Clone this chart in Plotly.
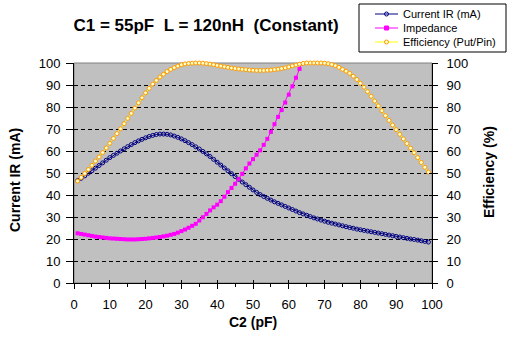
import plotly.graph_objects as go

# C2 sweep in pF
c2_pf = list(range(1, 100))

current_ir_ma = [
    46.5, 47.6, 48.7, 49.9, 51.0, 52.2, 53.4, 54.6, 55.8, 57.0,
    58.0, 59.0, 60.0, 61.0, 62.0, 62.9, 63.8, 64.6, 65.3, 66.0,
    66.6, 67.1, 67.5, 67.7, 67.7, 67.6, 67.3, 66.8, 66.2, 65.5,
    64.7, 63.8, 62.9, 61.9, 60.9, 59.8, 58.7, 57.5, 56.2, 54.9,
    53.6, 52.3, 51.0, 49.7, 48.4, 47.1, 45.9, 44.7, 43.5, 42.3,
    41.2, 40.2, 39.3, 38.5, 37.7, 36.9, 36.2, 35.5, 34.8, 34.1,
    33.4, 32.7, 32.0, 31.4, 30.8, 30.2, 29.6, 29.1, 28.6, 28.1,
    27.6, 27.2, 26.8, 26.4, 26.0, 25.6, 25.2, 24.9, 24.5, 24.2,
    23.9, 23.6, 23.3, 23.0, 22.7, 22.4, 22.1, 21.8, 21.5, 21.2,
    20.9, 20.6, 20.3, 20.0, 19.8, 19.5, 19.2, 18.9, 18.6,
]

impedance = [
    22.6, 22.3, 22.0, 21.7, 21.4, 21.1, 20.9, 20.7, 20.5, 20.3,
    20.2, 20.1, 20.0, 19.9, 19.8, 19.8, 19.8, 19.9, 20.0, 20.1,
    20.3, 20.5, 20.7, 20.9, 21.2, 21.5, 21.9, 22.3, 22.9, 23.6,
    24.3, 25.1, 26.0, 26.9, 28.4, 29.9, 31.4, 33.0, 34.4, 35.6,
    37.2, 39.2, 41.3, 43.2, 45.1, 47.2, 49.6, 52.1, 54.3, 56.3,
    58.3, 60.3, 62.8, 65.5, 68.7, 72.2, 75.5, 78.6, 82.0, 85.6,
    89.4, 93.3, 97.3, 101.5,
]

efficiency = [
    46.3, 48.0, 49.8, 51.6, 53.5, 55.4, 57.3, 59.3, 61.4, 63.5,
    65.7, 67.9, 70.1, 72.4, 74.8, 77.1, 79.5, 81.9, 84.2, 86.4,
    88.5, 90.4, 92.1, 93.6, 94.9, 96.1, 97.1, 97.9, 98.6, 99.2,
    99.6, 99.8, 99.9, 100.0, 100.0, 99.9, 99.7, 99.5, 99.2, 98.9,
    98.6, 98.3, 98.0, 97.7, 97.5, 97.3, 97.1, 97.0, 96.8, 96.7,
    96.6, 96.6, 96.6, 96.7, 96.8, 97.0, 97.2, 97.5, 97.8, 98.2,
    98.7, 99.1, 99.5, 99.8, 100.0, 100.0, 100.0, 100.0, 100.0, 99.9,
    99.7, 99.3, 98.8, 98.0, 97.1, 96.3, 95.3, 94.0, 92.5, 90.8,
    89.0, 87.0, 84.9, 82.7, 80.5, 78.3, 76.1, 73.9, 71.8, 69.7,
    67.6, 65.5, 63.4, 61.3, 59.2, 57.0, 54.8, 52.6, 50.4,
]

series_names = ["Current IR (mA)", "Impedance", "Efficiency (Put/Pin)"]
axis_ticks = list(range(0, 101, 10))

FONT = "Arial, 'Liberation Sans', sans-serif"
W, H = 514, 339
L, R, T, B = 74, 82, 63, 56
PW, PH = W - L - R, H - T - B


def px(xp):
    """canvas pixel x -> paper x"""
    return (xp - L) / PW


def py(yp):
    """canvas pixel y -> paper y"""
    return (H - B - yp) / PH


styles = [
    dict(line=dict(color="#000080", width=1),
         marker=dict(symbol="circle-open", size=4, color="#000080", line=dict(width=1))),
    dict(line=dict(color="#FF00FF", width=1),
         marker=dict(symbol="square", size=4, color="#FF00FF")),
    dict(line=dict(color="#FFFF00", width=1),
         marker=dict(symbol="circle", size=4, color="#FFFFCC", line=dict(color="#FF9900", width=1))),
]

fig = go.Figure()
fig.add_trace(go.Scatter(x=c2_pf, y=current_ir_ma, name=series_names[0],
                         mode="lines+markers", **styles[0]))
fig.add_trace(go.Scatter(x=c2_pf[:len(impedance)], y=impedance, name=series_names[1],
                         mode="lines+markers", **styles[1]))
fig.add_trace(go.Scatter(x=c2_pf, y=efficiency, name=series_names[2],
                         mode="lines+markers", yaxis="y2", cliponaxis=False, **styles[2]))

# empty traces that carry the inside half of the crossing tick marks
for xa, ya in (("x2", "y"), ("x", "y3"), ("x", "y4")):
    fig.add_trace(go.Scatter(x=[], y=[], xaxis=xa, yaxis=ya, showlegend=False, hoverinfo="skip"))

tick_font = dict(family=FONT, size=13, color="black")

# compact boxed legend in the top-right corner
shapes = [dict(type="rect", xref="paper", yref="paper", x0=0, x1=1, y0=0, y1=1,
               line=dict(color="#808080", width=1), fillcolor="rgba(0,0,0,0)", layer="below")]
shapes.append(dict(type="rect", xref="paper", yref="paper",
                   x0=px(359), x1=px(506), y0=py(4), y1=py(52),
                   line=dict(color="black", width=1), fillcolor="white", layer="above"))
annotations = []
for i, (name, st) in enumerate(zip(series_names, styles)):
    yc = 14 + 14 * i
    shapes.append(dict(type="line", xref="paper", yref="paper",
                       x0=px(375), x1=px(398), y0=py(yc), y1=py(yc),
                       line=dict(color=st["line"]["color"], width=1), layer="above"))
    mk = st["marker"]
    edge = mk.get("line", {}).get("color", mk["color"])
    fill = "rgba(0,0,0,0)" if mk["symbol"].endswith("open") else mk["color"]
    shapes.append(dict(type="rect" if mk["symbol"] == "square" else "circle",
                       xref="paper", yref="paper",
                       xsizemode="pixel", ysizemode="pixel",
                       xanchor=px(386.5), yanchor=py(yc),
                       x0=-2, x1=2, y0=-2, y1=2,
                       line=dict(color=edge, width=1), fillcolor=fill, layer="above"))
    annotations.append(dict(text=name, xref="paper", yref="paper",
                            x=px(401), y=py(yc), xanchor="left", yanchor="middle",
                            showarrow=False,
                            font=dict(family=FONT, size=11, color="black")))

annotations += [
    dict(text="<b>Current IR (mA)</b>", xref="paper", yref="paper",
         x=px(15), y=py(180), textangle=-90,
         showarrow=False, xanchor="center", yanchor="middle",
         font=dict(family=FONT, size=14, color="black")),
    dict(text="<b>Efficiency (%)</b>", xref="paper", yref="paper",
         x=px(489), y=py(172), textangle=-90,
         showarrow=False, xanchor="center", yanchor="middle",
         font=dict(family=FONT, size=14, color="black")),
    dict(text="<b>C2 (pF)</b>", xref="paper", yref="paper",
         x=0.5, y=py(322),
         showarrow=False, xanchor="center", yanchor="middle",
         font=dict(family=FONT, size=14, color="black")),
]

fig.update_layout(
    width=W, height=H,
    margin=dict(l=L, r=R, t=T, b=B, pad=0, autoexpand=False),
    paper_bgcolor="white", plot_bgcolor="#C0C0C0",
    font=dict(family=FONT, color="black"),
    title=dict(
        text="C1 = 55pF\u00a0\u00a0L = 120nH\u00a0\u00a0(Constant)",
        font=dict(family=FONT, size=17, color="black", weight="bold"),
        xref="container", yref="container", x=206 / W, y=1 - 25 / H,
        xanchor="center", yanchor="middle",
    ),
    showlegend=False,
    xaxis=dict(
        range=[0, 100], tickvals=axis_ticks, showgrid=False, zeroline=False,
        showline=True, linecolor="black", linewidth=1,
        ticks="outside", ticklen=5, tickcolor="black", tickwidth=1,
        minor=dict(dtick=5, tick0=0, ticks="outside", ticklen=3, tickcolor="black", showgrid=False),
        tickfont=tick_font, ticklabelstandoff=4,
    ),
    xaxis2=dict(
        range=[0, 100], tickvals=axis_ticks, overlaying="x", anchor="y", side="bottom",
        showgrid=False, zeroline=False, showline=False, showticklabels=False,
        ticks="inside", ticklen=3, tickcolor="black",
    ),
    yaxis=dict(
        range=[0, 100], tickvals=axis_ticks, zeroline=False,
        showgrid=True, gridcolor="black", gridwidth=1, griddash="4px,3px",
        showline=True, linecolor="black", linewidth=1,
        ticks="outside", ticklen=7, tickcolor="black",
        tickfont=tick_font, ticklabelstandoff=3,
    ),
    yaxis2=dict(
        range=[0, 100], tickvals=axis_ticks, overlaying="y", side="right", anchor="x",
        showgrid=False, zeroline=False,
        showline=True, linecolor="black", linewidth=1,
        ticks="outside", ticklen=5, tickcolor="black",
        tickfont=tick_font, ticklabelstandoff=6,
    ),
    yaxis3=dict(
        range=[0, 100], tickvals=axis_ticks, overlaying="y", side="left", anchor="x",
        showgrid=False, zeroline=False, showline=False, showticklabels=False,
        ticks="inside", ticklen=4, tickcolor="black",
    ),
    yaxis4=dict(
        range=[0, 100], tickvals=axis_ticks, overlaying="y", side="right", anchor="x",
        showgrid=False, zeroline=False, showline=False, showticklabels=False,
        ticks="inside", ticklen=3, tickcolor="black",
    ),
    shapes=shapes,
    annotations=annotations,
)

fig.write_html("out.html")
